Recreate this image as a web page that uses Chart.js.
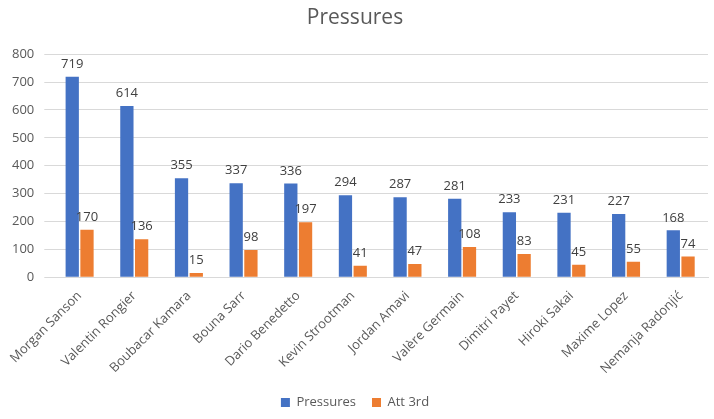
<!DOCTYPE html>
<html>
<head>
<meta charset="utf-8">
<script src="https://cdn.jsdelivr.net/npm/chart.js@4/dist/chart.umd.min.js"></script>
<style>
  html, body { margin: 0; padding: 0; background: #fff; }
  #wrap { width: 714px; height: 419px; }
</style>
</head>
<body>
<div id="wrap"><canvas id="myChart" width="714" height="419"></canvas></div>
<script>
const players = [
  "Morgan Sanson", "Valentin Rongier", "Boubacar Kamara", "Bouna Sarr",
  "Dario Benedetto", "Kevin Strootman", "Jordan Amavi", "Valère Germain",
  "Dimitri Payet", "Hiroki Sakai", "Maxime Lopez", "Nemanja Radonjić"
];
const pressures = [719, 614, 355, 337, 336, 294, 287, 281, 233, 231, 227, 168];
const att3rd = [170, 136, 15, 98, 197, 41, 47, 108, 83, 45, 55, 74];

const FONT = "'Open Sans', 'Noto Sans', sans-serif";
const GREY = "#595959";

// value labels above each bar
const barLabels = {
  id: "barLabels",
  afterDatasetsDraw(chart) {
    const c = chart.ctx;
    c.save();
    c.font = "13px " + FONT;
    c.fillStyle = "#404040";
    c.textAlign = "center";
    c.textBaseline = "bottom";
    chart.data.datasets.forEach((ds, i) => {
      chart.getDatasetMeta(i).data.forEach((bar, j) => {
        c.fillText(ds.data[j], bar.x, bar.y - 6);
      });
    });
    c.restore();
  }
};

const ctx = document.getElementById("myChart");

new Chart(ctx, {
  type: "bar",
  data: {
    labels: players,
    datasets: [
      { label: "Pressures", data: pressures, backgroundColor: "#4472C4" },
      { label: "Att 3rd", data: att3rd, backgroundColor: "#ED7D31" }
    ]
  },
  options: {
    responsive: false,
    animation: false,
    layout: { padding: { left: 2, right: 6, top: 0, bottom: 0 } },
    datasets: { bar: { categoryPercentage: 0.54, barPercentage: 0.9 } },
    plugins: {
      title: {
        display: true,
        text: "Pressures",
        color: GREY,
        font: { family: FONT, size: 21, weight: "normal" },
        padding: { top: 5, bottom: 24 }
      },
      legend: {
        position: "bottom",
        labels: {
          color: GREY,
          font: { family: FONT, size: 13 },
          boxWidth: 9,
          boxHeight: 9,
          padding: 16
        }
      },
      tooltip: { enabled: false }
    },
    scales: {
      x: {
        grid: { display: false },
        border: { color: "#d9d9d9" },
        ticks: {
          color: GREY,
          font: { family: FONT, size: 13 },
          maxRotation: 45,
          minRotation: 45,
          autoSkip: false
        }
      },
      y: {
        min: 0,
        max: 800,
        ticks: { stepSize: 100, color: GREY, font: { family: FONT, size: 13 }, padding: 10 },
        grid: { color: "#d9d9d9" },
        border: { display: false }
      }
    }
  },
  plugins: [barLabels]
});
</script>
</body>
</html>
